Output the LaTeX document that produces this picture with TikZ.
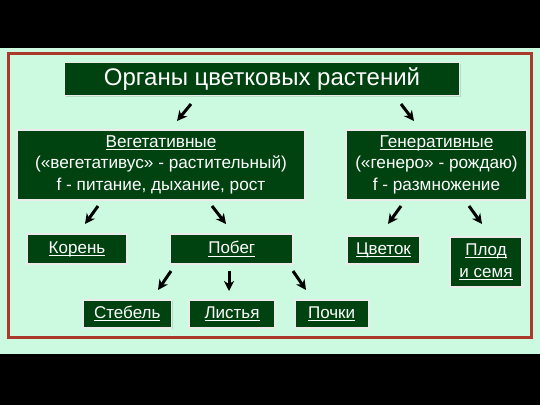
\documentclass[tikz,border=0pt]{standalone}
\usepackage{fontspec}
\setmainfont{Liberation Sans}
\usetikzlibrary{arrows.meta,shadows}
\definecolor{bgmint}{RGB}{204,250,224}
\definecolor{boxgreen}{RGB}{0,66,16}
\definecolor{framered}{RGB}{172,58,44}
\tikzset{
  box/.style={rectangle, fill=boxgreen, draw=white!92!black, line width=1.8pt, text=white,
    inner sep=0pt, align=center, drop shadow={opacity=0.25, shadow xshift=1.2pt, shadow yshift=-1.2pt}},
  arr/.style={line width=3pt, -{Stealth[length=10pt,width=10pt,inset=3pt]}, black},
}
\newcommand{\ul}[1]{\setbox0\hbox{#1}\leavevmode\rlap{\rule[-2.6pt]{\wd0}{1pt}}\box0}
\begin{document}
\begin{tikzpicture}[x=1pt,y=-1pt]
\fill[black] (0,0) rectangle (540,405);
\useasboundingbox (0,0) rectangle (540,405);
\fill[bgmint] (0,48) rectangle (540,354);
\draw[framered, line width=2.2pt] (8.5,53.5) rectangle (531.5,337.5);

\node[box, minimum width=395pt, minimum height=33pt, font=\fontsize{24}{27}\selectfont] (title) at (262,79) {\raisebox{-1.5pt}{Органы цветковых растений}};

\node[box, minimum width=288pt, minimum height=70pt, font=\fontsize{17.2}{21.5}\selectfont] (veg) at (161,164.75)
  {\ul{Вегетативные}\\(«вегетативус» - растительный)\\f - питание, дыхание, рост};
\node[box, minimum width=181pt, minimum height=70pt, font=\fontsize{17.2}{21.5}\selectfont] (gen) at (436.5,164.75)
  {\ul{Генеративные}\\(«генеро» - рождаю)\\f - размножение};

\node[box, minimum width=100pt, minimum height=29.5pt, font=\fontsize{17}{20}\selectfont] (koren) at (77,249) {\ul{Корень}};
\node[box, minimum width=122.5pt, minimum height=29.5pt, font=\fontsize{17}{20}\selectfont] (pobeg) at (231.75,249) {\ul{Побег}};
\node[box, minimum width=73pt, minimum height=28pt, font=\fontsize{17}{20}\selectfont] (cvetok) at (383.5,250) {\ul{Цветок}};
\node[box, minimum width=72pt, minimum height=50pt, font=\fontsize{17}{22}\selectfont] (plod) at (486,261.7) {\ul{Плод}\\\ul{и семя}};

\node[box, minimum width=88.5pt, minimum height=27.6pt, font=\fontsize{17}{20}\selectfont] (stebel) at (127.25,313.8) {\ul{Стебель}};
\node[box, minimum width=86pt, minimum height=27.6pt, font=\fontsize{17}{20}\selectfont] (listya) at (232,313.8) {\ul{Листья}};
\node[box, minimum width=74pt, minimum height=27.6pt, font=\fontsize{17}{20}\selectfont] (pochki) at (331.6,313.8) {\ul{Почки}};

\coordinate (t1s) at (191,104); \coordinate (t1e) at (177,121);
\coordinate (t2s) at (401,104); \coordinate (t2e) at (414,121);
\coordinate (v1s) at (98,206);  \coordinate (v1e) at (85,224);
\coordinate (v2s) at (212,206); \coordinate (v2e) at (226,224);
\coordinate (g1s) at (401,206); \coordinate (g1e) at (388,224);
\coordinate (g2s) at (469,206); \coordinate (g2e) at (482,224);
\coordinate (p1s) at (171,271); \coordinate (p1e) at (158,290);
\coordinate (p2s) at (229,271); \coordinate (p2e) at (229,291);
\coordinate (p3s) at (293,271); \coordinate (p3e) at (306,290);

\draw[arr] (t1s) -- (t1e);
\draw[arr] (t2s) -- (t2e);
\draw[arr] (v1s) -- (v1e);
\draw[arr] (v2s) -- (v2e);
\draw[arr] (g1s) -- (g1e);
\draw[arr] (g2s) -- (g2e);
\draw[arr] (p1s) -- (p1e);
\draw[arr] (p2s) -- (p2e);
\draw[arr] (p3s) -- (p3e);
\end{tikzpicture}
\end{document}
